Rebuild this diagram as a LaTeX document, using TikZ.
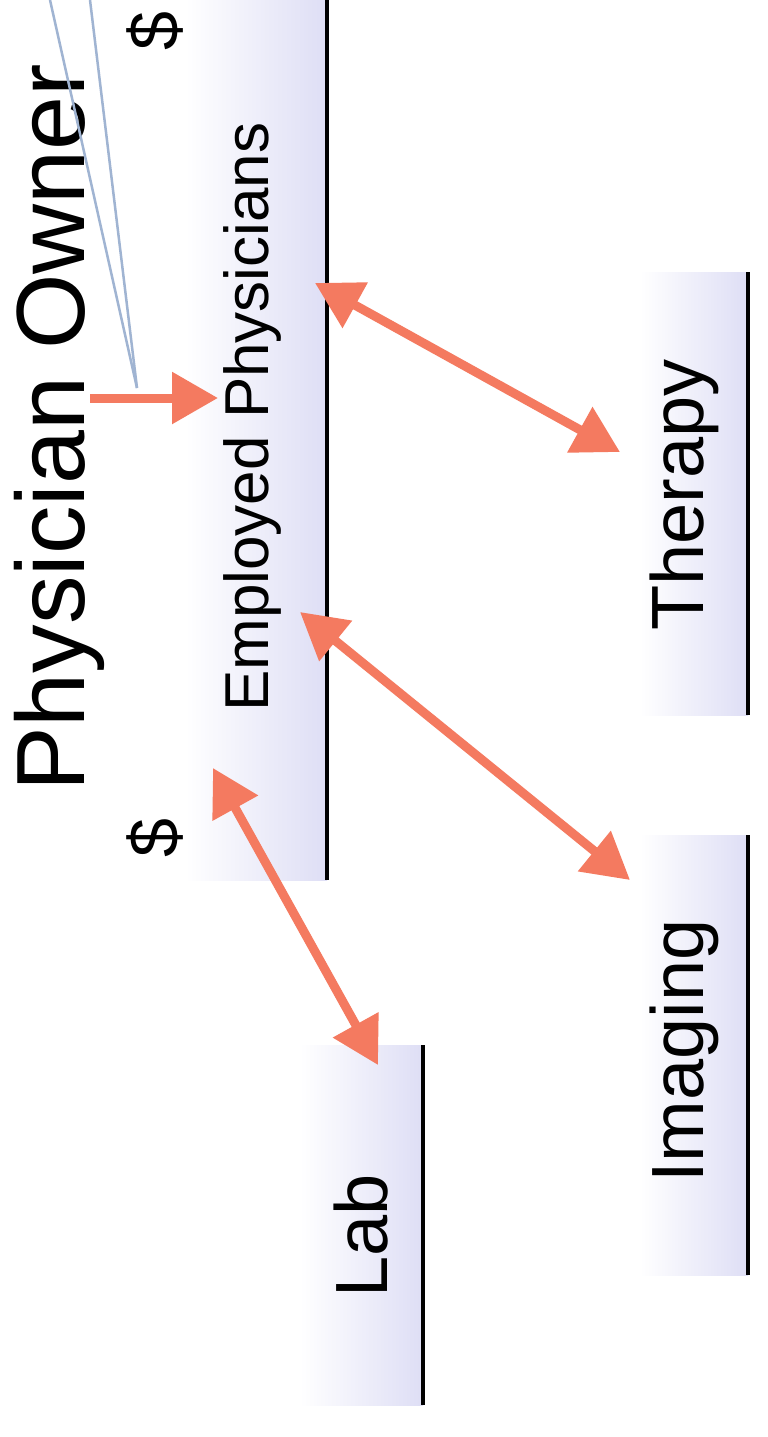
\documentclass[tikz,border=0pt]{standalone}
\usepackage{fontspec}
\setmainfont{Liberation Sans}
\usetikzlibrary{arrows.meta}
\definecolor{salmon}{RGB}{244,122,96}
\definecolor{lav}{RGB}{222,222,245}
\definecolor{steel}{RGB}{160,180,210}
\tikzset{
  lbl/.style={rotate=90,inner sep=0pt,anchor=base west,text=black},
  dbl/.style={draw=salmon,line width=9pt,{Triangle[length=46pt,width=50pt]}-{Triangle[length=46pt,width=50pt]}},
  sgl/.style={draw=salmon,line width=9pt,-{Triangle[length=46pt,width=50pt]}},
  rule/.style={draw=black,line width=3.5pt},
  thinline/.style={draw=steel,line width=2.5pt}
}
\begin{document}
\begin{tikzpicture}[x=1pt,y=-1pt]
\useasboundingbox (0,0) rectangle (768,1437);
\fill[white] (0,0) rectangle (768,1437);
% shaded boxes
\shade[left color=white,right color=lav] (185,0) rectangle (327,880);
\shade[left color=white,right color=lav] (300,1045) rectangle (423,1405);
\shade[left color=white,right color=lav] (640,272) rectangle (748,715);
\shade[left color=white,right color=lav] (640,835) rectangle (748,1275);
% black rules
\draw[rule] (327,0) -- (327,880);
\draw[rule] (423,1045) -- (423,1405);
\draw[rule] (748,272) -- (748,715);
\draw[rule] (748,835) -- (748,1275);
% texts
\node[lbl,font=\fontsize{97}{110}\selectfont] (owner) at (84,792) {Physician Owner};
\node[lbl,font=\fontsize{62}{70}\selectfont] (emp) at (268,712) {Employed Physicians};
\node[lbl,font=\fontsize{74}{85}\selectfont] (lab) at (387,1298) {Lab};
\node[lbl,font=\fontsize{74}{85}\selectfont] (ther) at (703,631) {Therapy};
\node[lbl,font=\fontsize{74}{85}\selectfont] (img) at (703,1183) {Imaging};
\node[rotate=90,inner sep=0pt,font=\fontsize{70}{80}\selectfont] (d1) at (155,31) {\$};
\node[rotate=90,inner sep=0pt,font=\fontsize{70}{80}\selectfont] (d2) at (155,838) {\$};
% coordinates
\coordinate (bt) at (137,388);
\coordinate (b1) at (50,0);
\coordinate (b2) at (90,0);
\coordinate (os) at (90,398);
\coordinate (oe) at (218,398);
\coordinate (e1) at (315,283);
\coordinate (t1) at (620,452);
\coordinate (e2) at (300,612);
\coordinate (i1) at (630,880);
\coordinate (e3) at (213,768);
\coordinate (l1) at (378,1065);
% connectors
\draw[thinline] (b1) -- (bt);
\draw[thinline] (b2) -- (bt);
\draw[sgl] (os) -- (oe);
\draw[dbl] (e1) -- (t1);
\draw[dbl] (e2) -- (i1);
\draw[dbl] (e3) -- (l1);
\end{tikzpicture}
\end{document}
